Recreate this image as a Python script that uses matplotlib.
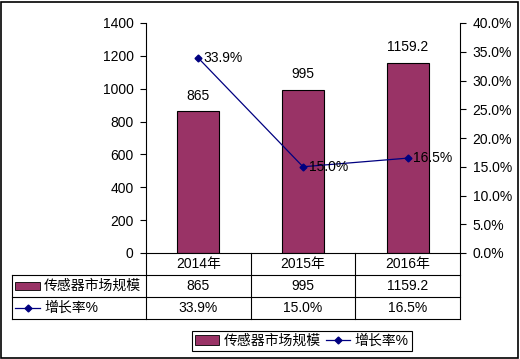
import matplotlib.pyplot as plt
from matplotlib.lines import Line2D
from matplotlib.patches import Rectangle
import matplotlib.transforms as mtransforms

plt.rcParams['font.family'] = ['Liberation Sans', 'Noto Sans CJK SC']
plt.rcParams['font.size'] = 10

years = ["2014年", "2015年", "2016年"]
market = [865, 995, 1159.2]
growth = [33.9, 15.0, 16.5]
bar_name = "传感器市场规模"
line_name = "增长率%"

bar_color = "#993366"
line_color = "#000080"

W, H = 520, 359
fig = plt.figure(figsize=(W / 100, H / 100), dpi=100)
ax = fig.add_axes([146 / W, 1 - 253 / H, (460 - 146) / W, (253 - 23) / H])
ax2 = ax.twinx()

x = list(range(len(years)))
ax.bar(x, market, width=0.4, color=bar_color, edgecolor="black", linewidth=0.8, zorder=2)
for xi, v in zip(x, market):
    ax.annotate(f"{v:g}", (xi, v), xytext=(0, 6), textcoords="offset points",
                ha="center", va="bottom")

ax.set_xlim(-0.5, 2.5)
ax.set_ylim(0, 1400)
ax.set_yticks(range(0, 1401, 200))
ax.set_xticks([])

ax2.plot(x, growth, color=line_color, lw=0.9, marker="D", ms=3.5, zorder=3)
for xi, v in zip(x, growth):
    ax2.annotate(f"{v:.1f}%", (xi, v), xytext=(4, 0), textcoords="offset points",
                 ha="left", va="center")
ax2.set_ylim(0, 40)
ax2.set_yticks(range(0, 41, 5))
ax2.set_yticklabels([f"{t:.1f}%" for t in range(0, 41, 5)])

for a in (ax, ax2):
    a.spines["top"].set_visible(False)
    a.spines["bottom"].set_visible(False)
    a.tick_params(direction="out", length=4, width=0.8, pad=5)
ax.spines["right"].set_visible(False)
ax2.spines["left"].set_visible(False)

# data table under the axes
trans = mtransforms.blended_transform_factory(ax.transData, fig.transFigure)
row_h = 22 / H
y0 = 1 - 253 / H
lab_left = -0.5 - (146 - 12) / ((460 - 146) / 3)
ys = [y0 - i * row_h for i in range(4)]
lk = dict(color="black", lw=0.8, transform=trans, clip_on=False)
ax.add_line(Line2D([-0.5, 2.5], [ys[0], ys[0]], **lk))
for yy in ys[1:]:
    ax.add_line(Line2D([lab_left, 2.5], [yy, yy], **lk))
ax.add_line(Line2D([lab_left, lab_left], [ys[1], ys[3]], **lk))
for xv in [-0.5, 0.5, 1.5, 2.5]:
    ax.add_line(Line2D([xv, xv], [ys[0], ys[3]], **lk))

for xi, yr, m, g in zip(x, years, market, growth):
    ax.text(xi, ys[0] - row_h / 2, yr, ha="center", va="center", transform=trans)
    ax.text(xi, ys[1] - row_h / 2, f"{m:g}", ha="center", va="center", transform=trans)
    ax.text(xi, ys[2] - row_h / 2, f"{g:.1f}%", ha="center", va="center", transform=trans)

# row keys
fig.patches.append(Rectangle((15 / W, ys[1] - row_h / 2 - 4 / H), 25 / W, 8 / H,
                             facecolor=bar_color, edgecolor="black", lw=0.6,
                             transform=fig.transFigure))
fig.lines.append(Line2D([15 / W, 40 / W], [ys[2] - row_h / 2] * 2, color=line_color,
                        lw=0.9, transform=fig.transFigure))
fig.lines.append(Line2D([27.5 / W], [ys[2] - row_h / 2], color=line_color,
                        marker="D", ms=3.5, transform=fig.transFigure))
fig.text(44 / W, ys[1] - row_h / 2, bar_name, ha="left", va="center")
fig.text(44 / W, ys[2] - row_h / 2, line_name, ha="left", va="center")

handles = [Rectangle((0, 0), 1, 1, facecolor=bar_color, edgecolor="black", lw=0.6),
           Line2D([], [], color=line_color, lw=0.9, marker="D", ms=3.5)]
leg = fig.legend(handles, [bar_name, line_name], loc="center", ncol=2,
                 bbox_to_anchor=(302 / W, 1 - 341 / H), frameon=True, fancybox=False,
                 edgecolor="black", framealpha=1, borderpad=0.25, handlelength=1.7,
                 handletextpad=0.35, columnspacing=0.4, handleheight=0.7,
                 borderaxespad=0)
leg.get_frame().set_linewidth(0.8)

fig.patches.append(Rectangle((1 / W, 1 / H), (W - 3) / W, (H - 3) / H, fill=False,
                             edgecolor="black", lw=1.2, transform=fig.transFigure))

fig.savefig("out.png", dpi=100)
